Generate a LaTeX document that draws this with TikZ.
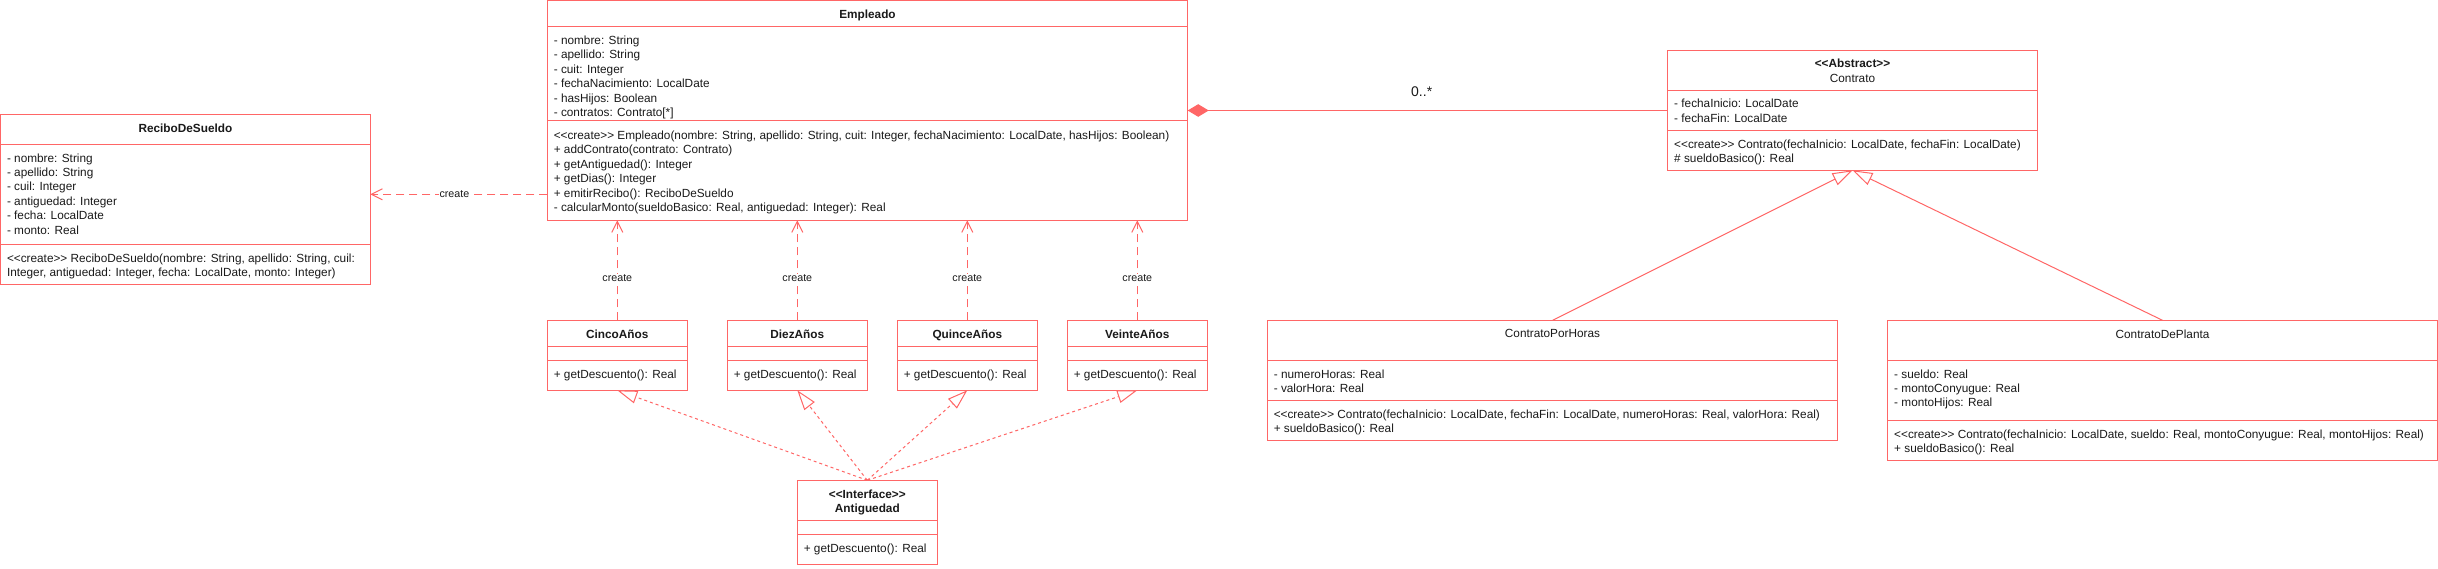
\documentclass[tikz,border=0pt]{standalone}
\usepackage{fontspec}
\setmainfont{Liberation Sans}
\usetikzlibrary{arrows.meta}
\definecolor{lc}{HTML}{FF6666}
\definecolor{tc}{HTML}{1A1A1A}
\newcommand\stt[1]{<{}<#1>{}>}
% name, x1, y1, x2, y2, separator 1, separator 2
\newcommand\umlcls[7]{%
  \node[cls, minimum width={#4-#2}, minimum height={#5-#3}] (#1) at ({(#2+#4)/2},{(#3+#5)/2}) {};
  \draw[ln] (#2,#6) -- (#4,#6);
  \draw[ln] (#2,#7) -- (#4,#7);
}
\begin{document}
\begin{tikzpicture}[x=1pt,y=-1pt,
  ln/.style={draw=lc,line width=1pt},
  cls/.style={draw=lc,line width=1pt,fill=white,inner sep=0pt,outer sep=0pt,rectangle},
  txt/.style={font=\fontsize{11.8}{14.4}\selectfont,align=left,anchor=north west,inner sep=0pt,outer sep=0pt,text=tc},
  ttl/.style={font=\bfseries\fontsize{11.8}{14.4}\selectfont,align=center,anchor=north,inner sep=0pt,outer sep=0pt,text=tc},
  ttlr/.style={font=\fontsize{11.8}{14.4}\selectfont,align=center,anchor=north,inner sep=0pt,outer sep=0pt,text=tc},
  lbl/.style={font=\fontsize{10.7}{12}\selectfont,fill=white,inner sep=1pt,text=tc},
  createln/.style={ln,dash pattern=on 8pt off 5pt,-{Straight Barb[length=11pt,width=11pt]}},
  realln/.style={ln,dash pattern=on 3pt off 3pt,-{Triangle[length=20pt,width=13pt,fill=white]}},
  inhln/.style={ln,-{Triangle[length=20pt,width=13pt,fill=white]}},
  compln/.style={ln,{Diamond[length=21pt,width=12.6pt]}-}
]
\useasboundingbox (0,0) rectangle (2438,568);

% ---------------- classes ----------------
\umlcls{rec}{0.5}{114.3}{370.3}{284.3}{144.3}{244.3}
\node[ttl] (rec-t) at (185.4,123.6) {ReciboDeSueldo};
\node[txt] (rec-a) at (7,153.6) {- nombre: String\\- apellido: String\\- cuil: Integer\\- antiguedad: Integer\\- fecha: LocalDate\\- monto: Real};
\node[txt] (rec-m) at (7,253.6) {\stt{create} ReciboDeSueldo(nombre: String, apellido: String, cuil:\\Integer, antiguedad: Integer, fecha: LocalDate, monto: Integer)};

\umlcls{emp}{547.3}{0.5}{1187.7}{220.3}{26.3}{120.3}
\node[ttl] (emp-t) at (867.5,9.9) {Empleado};
\node[txt] (emp-a) at (553.8,35.9) {- nombre: String\\- apellido: String\\- cuit: Integer\\- fechaNacimiento: LocalDate\\- hasHijos: Boolean\\- contratos: Contrato[*]};
\node[txt] (emp-m) at (553.8,130.9) {\stt{create} Empleado(nombre: String, apellido: String, cuit: Integer, fechaNacimiento: LocalDate, hasHijos: Boolean)\\+ addContrato(contrato: Contrato)\\+ getAntiguedad(): Integer\\+ getDias(): Integer\\+ emitirRecibo(): ReciboDeSueldo\\- calcularMonto(sueldoBasico: Real, antiguedad: Integer): Real};

\umlcls{con}{1667.7}{50.7}{2037.3}{170.3}{90.7}{130.3}
\node[ttl] (con-t) at (1852.5,59.2) {\stt{Abstract}\\\mdseries Contrato};
\node[txt] (con-a) at (1674.2,99.2) {- fechaInicio: LocalDate\\- fechaFin: LocalDate};
\node[txt] (con-m) at (1674.2,139.6) {\stt{create} Contrato(fechaInicio: LocalDate, fechaFin: LocalDate)\\\# sueldoBasico(): Real};

\umlcls{cinco}{547.3}{320.3}{687.3}{390.3}{346.3}{360.3}
\node[ttl] (cinco-t) at (617.3,329.6) {CincoAños};
\node[txt] (cinco-m) at (553.8,369.6) {+ getDescuento(): Real};

\umlcls{diez}{727.3}{320.3}{867.3}{390.3}{346.3}{360.3}
\node[ttl] (diez-t) at (797.3,329.6) {DiezAños};
\node[txt] (diez-m) at (733.8,369.6) {+ getDescuento(): Real};

\umlcls{quince}{897.3}{320.3}{1037.3}{390.3}{346.3}{360.3}
\node[ttl] (quince-t) at (967.3,329.6) {QuinceAños};
\node[txt] (quince-m) at (903.8,369.6) {+ getDescuento(): Real};

\umlcls{veinte}{1067.3}{320.3}{1207.3}{390.3}{346.3}{360.3}
\node[ttl] (veinte-t) at (1137.3,329.6) {VeinteAños};
\node[txt] (veinte-m) at (1073.8,369.6) {+ getDescuento(): Real};

\umlcls{ant}{797.3}{480.3}{937.3}{564.3}{520.3}{534.3}
\node[ttl] (ant-t) at (867.3,489.6) {\stt{Interface}\\Antiguedad};
\node[txt] (ant-m) at (803.8,543.6) {+ getDescuento(): Real};

\umlcls{cph}{1267.3}{320.3}{1837.7}{440.3}{360.3}{400.3}
\node[ttlr] (cph-t) at (1552.5,329.6) {ContratoPorHoras};
\node[txt] (cph-a) at (1273.8,369.6) {- numeroHoras: Real\\- valorHora: Real};
\node[txt] (cph-m) at (1273.8,409.6) {\stt{create} Contrato(fechaInicio: LocalDate, fechaFin: LocalDate, numeroHoras: Real, valorHora: Real)\\+ sueldoBasico(): Real};

\umlcls{cdp}{1887.7}{320.3}{2437.3}{460.3}{360.3}{420.3}
\node[ttlr] (cdp-t) at (2162.5,329.6) {ContratoDePlanta};
\node[txt] (cdp-a) at (1894.2,369.6) {- sueldo: Real\\- montoConyugue: Real\\- montoHijos: Real};
\node[txt] (cdp-m) at (1894.2,429.6) {\stt{create} Contrato(fechaInicio: LocalDate, sueldo: Real, montoConyugue: Real, montoHijos: Real)\\+ sueldoBasico(): Real};

% ---------------- connectors ----------------
\draw[compln] (emp.east |- con.west) -- (con.west);
\node[font=\fontsize{14}{16}\selectfont,text=tc,inner sep=0pt] (mult) at (1421.7,91.7) {0..*};

\coordinate (c0) at (547.3,194.3);
\draw[createln] (c0) -- (c0 -| rec.east) node[lbl,pos=0.525] (cr0) {create};

\draw[createln] (cinco.north) -- (cinco.north |- emp.south) node[lbl,pos=0.42] (cr1) {create};
\draw[createln] (diez.north) -- (diez.north |- emp.south) node[lbl,pos=0.42] (cr2) {create};
\draw[createln] (quince.north) -- (quince.north |- emp.south) node[lbl,pos=0.42] (cr3) {create};
\draw[createln] (veinte.north) -- (veinte.north |- emp.south) node[lbl,pos=0.42] (cr4) {create};

\draw[realln] (ant.north) -- (cinco.south);
\draw[realln] (ant.north) -- (diez.south);
\draw[realln] (ant.north) -- (quince.south);
\draw[realln] (ant.north) -- (veinte.south);

\draw[inhln] (cph.north) -- (con.south);
\draw[inhln] (cdp.north) -- (con.south);
\end{tikzpicture}
\end{document}
